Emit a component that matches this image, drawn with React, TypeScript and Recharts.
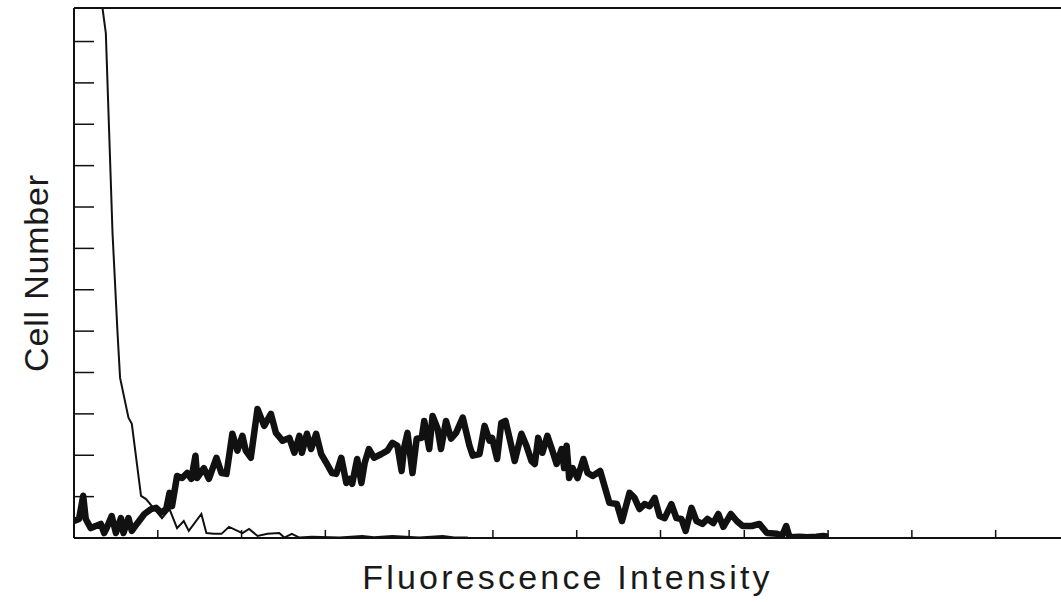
import React from 'react';
import { LineChart, Line, XAxis, YAxis } from 'recharts';

// Fluorescence channel (x) and cell counts (y)
const stainedX = [
  0, 0.6, 1.1, 1.4, 2.0, 2.6, 3.2, 3.6, 3.9, 4.5, 5.0, 5.6, 5.9, 6.5, 6.9, 7.5, 8.4, 9.2, 9.8, 10.4,
  11.0, 11.4, 11.7, 12.3, 12.9, 13.5, 14.0, 14.5, 14.7, 15.5, 16.1, 17.0, 17.6, 18.2, 18.9, 19.5, 20.1, 20.5, 21.1, 21.9,
  22.7, 23.5, 24.1, 24.9, 25.7, 26.3, 26.9, 27.2, 27.8, 28.3, 28.9, 29.5, 30.1, 30.8, 31.3, 31.9, 32.5, 32.9, 33.2, 33.8,
  34.3, 34.7, 35.2, 35.8, 36.7, 37.4, 38.0, 38.6, 39.1, 39.4, 39.8, 40.4, 40.9, 41.5, 41.8, 42.4, 42.8, 43.4, 43.8, 44.4,
  45.0, 45.6, 46.4, 47.2, 47.6, 48.4, 49.0, 49.6, 49.9, 50.5, 51.0, 51.5, 52.0, 52.6, 53.4, 54.0, 54.6, 55.0, 55.4, 55.9,
  56.5, 57.1, 57.6, 58.2, 58.5, 58.8, 59.1, 59.5, 60.1, 60.8, 61.3, 61.9, 62.8, 63.9, 64.8, 65.4, 66.3, 66.9, 67.5, 68.1,
  68.7, 69.3, 69.9, 70.5, 71.3, 71.9, 72.5, 73.0, 73.7, 74.3, 75.0, 75.6, 76.3, 76.9, 77.5, 78.4, 79.1, 79.8, 80.9, 81.8,
  82.7, 83.9, 84.5, 85.0, 85.4, 86.6, 87.5, 88.6, 89.4, 90.0,
];
const stainedY = [
  4.1, 4.6, 10.2, 4.6, 2.4, 2.9, 3.4, 1.2, 2.4, 5.3, 1.2, 4.8, 1.2, 4.8, 1.7, 3.4, 5.8, 7.0, 7.3, 6.1,
  7.0, 10.9, 7.7, 15.0, 14.5, 15.7, 14.3, 19.9, 14.5, 16.9, 14.3, 19.4, 15.7, 15.5, 25.2, 21.1, 24.7, 21.1, 19.4, 31.2,
  27.1, 30.0, 25.4, 23.5, 24.2, 20.6, 24.7, 20.6, 25.2, 21.5, 25.2, 20.3, 18.2, 15.7, 15.5, 19.4, 13.3, 14.3, 13.1, 19.1,
  13.3, 18.2, 21.5, 19.4, 20.3, 21.1, 23.0, 22.3, 16.2, 21.8, 25.4, 15.7, 24.0, 24.2, 28.3, 21.5, 29.5, 26.4, 21.5, 28.3,
  24.0, 25.4, 29.1, 22.3, 19.9, 20.3, 27.1, 23.5, 24.2, 19.1, 27.8, 28.3, 24.0, 18.6, 25.2, 22.3, 18.6, 17.9, 24.2, 20.6,
  24.7, 21.1, 17.9, 21.5, 16.9, 22.3, 14.5, 16.9, 14.5, 19.1, 15.7, 15.0, 16.2, 8.5, 8.2, 4.1, 10.9, 9.7, 7.0, 8.2,
  7.7, 9.7, 5.3, 4.8, 8.2, 4.8, 4.6, 1.7, 7.3, 4.1, 3.4, 4.6, 3.6, 5.8, 2.7, 5.8, 4.1, 2.9, 2.9, 3.4,
  1.2, 1.0, 0.5, 2.9, 0.2, 0.3, 0.2, 0.3, 0.5, 0.3,
];

const controlX = [
  0, 2.5, 3.4, 3.8, 4.2, 4.6, 5.2, 5.5, 6.5, 6.9, 8.0, 8.6, 9.3, 10.5, 11.4, 12.3, 13.1, 13.7, 15.2, 15.8,
  16.7, 17.6, 18.5, 20.1, 20.9, 21.9, 23.1, 24.5, 25.1, 26.0, 26.9, 28.4, 31.7, 34.4, 35.8, 38.0, 41.2, 44.0, 45.4, 47.0,
];
const controlY = [
  140, 140, 128.1, 122.0, 97.8, 73.6, 49.4, 38.7, 29.1, 27.6, 10.2, 9.4, 7.7, 4.8, 7.0, 2.4, 4.1, 1.7, 5.8, 1.2,
  1.0, 1.0, 2.7, 1.2, 2.2, 0.5, 1.0, 1.2, 0.1, 1.0, 0.1, 0.3, 0.1, 0.5, 0.2, 0.5, 0.1, 0.5, 0.1, 0.1,
];

const xTicks = [10, 20, 30, 40, 50, 60, 70, 80, 90, 100, 110];
const yTicks = [10, 20, 30, 40, 50, 60, 70, 80, 90, 100, 110, 120];
const xDomain: [number, number] = [0, 117.8];
const yDomain: [number, number] = [0, 128.1];

const stained = stainedX.map((x, i) => ({ x, y: stainedY[i] }));
const control = controlX.map((x, i) => ({ x, y: controlY[i] }));

const FONT = '"Liberation Sans", Arial, Helvetica, sans-serif';
const INK = '#111';

const NoLabel = () => <g />;

export default function App() {
  return (
    <div style={{ position: 'absolute', left: 0, top: 0, background: '#fff' }}>
      <LineChart width={1061} height={602} margin={{ top: 7, right: 0, left: 74, bottom: 64 }}>
        <XAxis
          xAxisId="top"
          orientation="top"
          type="number"
          dataKey="x"
          domain={xDomain}
          allowDataOverflow
          ticks={xTicks}
          tick={NoLabel}
          tickLine={false}
          height={1}
          axisLine={{ stroke: INK, strokeWidth: 2 }}
        />
        <XAxis
          type="number"
          dataKey="x"
          domain={xDomain}
          allowDataOverflow
          ticks={xTicks}
          tick={NoLabel}
          tickSize={8}
          mirror
          height={1}
          axisLine={{ stroke: INK, strokeWidth: 2 }}
          tickLine={{ stroke: INK, strokeWidth: 1.5 }}
          label={{
            value: 'Fluorescence Intensity',
            position: 'bottom',
            offset: 27,
            style: { fontFamily: FONT, fontSize: 34, fill: '#1a1a1a', letterSpacing: '3.2px' },
          }}
        />
        <YAxis
          type="number"
          domain={yDomain}
          allowDataOverflow
          ticks={yTicks}
          tick={NoLabel}
          tickSize={20}
          mirror
          width={1}
          axisLine={{ stroke: INK, strokeWidth: 2 }}
          tickLine={{ stroke: INK, strokeWidth: 1.5 }}
          label={{
            value: 'Cell Number',
            angle: -90,
            position: 'left',
            offset: 38,
            style: { fontFamily: FONT, fontSize: 34, fill: '#1a1a1a', textAnchor: 'middle', letterSpacing: '0.8px' },
          }}
        />
        <Line
          data={control}
          dataKey="y"
          type="linear"
          stroke={INK}
          strokeWidth={2}
          dot={false}
          activeDot={false}
          isAnimationActive={false}
        />
        <Line
          data={stained}
          dataKey="y"
          type="linear"
          stroke={INK}
          strokeWidth={6.5}
          strokeLinejoin="round"
          dot={false}
          activeDot={false}
          isAnimationActive={false}
        />
      </LineChart>
    </div>
  );
}
